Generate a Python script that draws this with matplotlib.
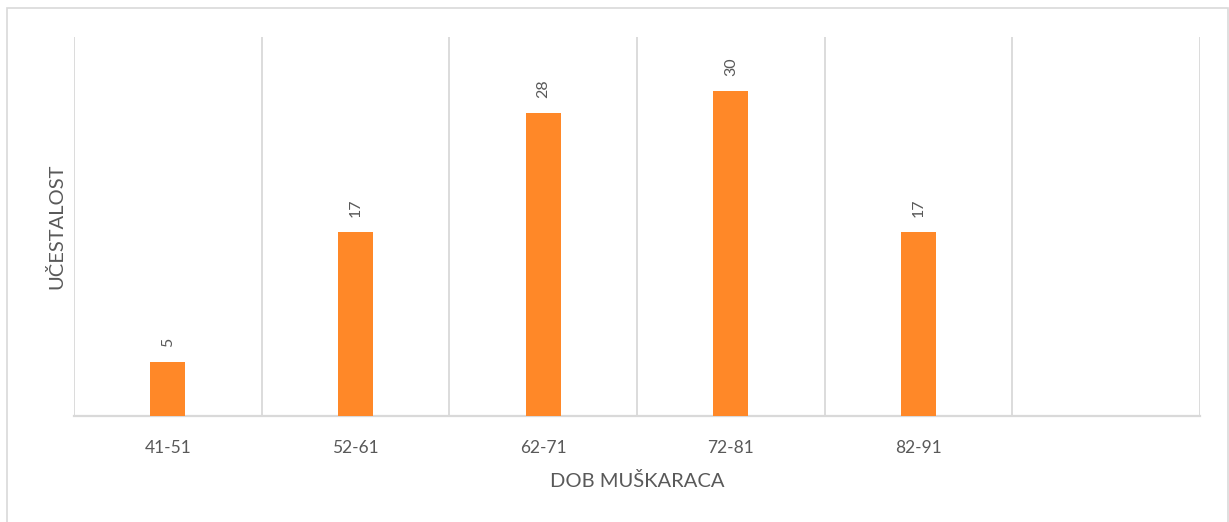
import matplotlib
matplotlib.use('agg')
import matplotlib.pyplot as plt
from matplotlib.patches import Rectangle

# age groups (last slot is empty in the original chart)
categories = ['41-51', '52-61', '62-71', '72-81', '82-91', '']
counts = [5, 17, 28, 30, 17]

bar_color = '#FF8828'
grid_color = '#D9D9D9'
text_color = '#595959'

plt.rcParams['font.family'] = ['Lato', 'DejaVu Sans']

fig = plt.figure(figsize=(12.29, 5.22), dpi=100)
ax = fig.add_axes([0.0602, 0.2031, 0.9162, 0.726])

xs = list(range(len(counts)))
bars = ax.bar(xs, counts, width=0.185, color=bar_color, zorder=3)
for b, v in zip(bars, counts):
    ax.annotate(str(v), (b.get_x() + b.get_width() / 2, b.get_height()),
                xytext=(0, 11), textcoords='offset points', rotation=90,
                ha='center', va='bottom', fontsize=11.5, color=text_color)

ax.set_xlim(-0.5, len(categories) - 0.5)
ax.set_ylim(0, 35)
ax.set_xticks(range(len(categories)))
ax.set_xticklabels(categories, fontsize=12.5, color=text_color)
ax.set_xticks([i - 0.5 for i in range(len(categories) + 1)], minor=True)
ax.tick_params(axis='x', which='both', length=0, pad=17)
ax.set_yticks([])
ax.grid(True, axis='x', which='minor', color=grid_color, lw=1.3, zorder=0)

for s in ['top', 'right', 'left']:
    ax.spines[s].set_visible(False)
ax.spines['bottom'].set_color(grid_color)
ax.spines['bottom'].set_linewidth(1.6)

ax.set_xlabel('DOB MUŠKARACA', fontsize=14.5, color=text_color, labelpad=12)
ax.set_ylabel('UČESTALOST', fontsize=14.5, color=text_color, labelpad=6)

# light frame around the whole chart
fig.patches.append(Rectangle((7 / 1229, -0.02), (1228 - 7) / 1229, 1 - 8 / 522 + 0.02,
                             transform=fig.transFigure, fill=False,
                             edgecolor=grid_color, lw=1.2))

fig.savefig('out.png', dpi=100)
